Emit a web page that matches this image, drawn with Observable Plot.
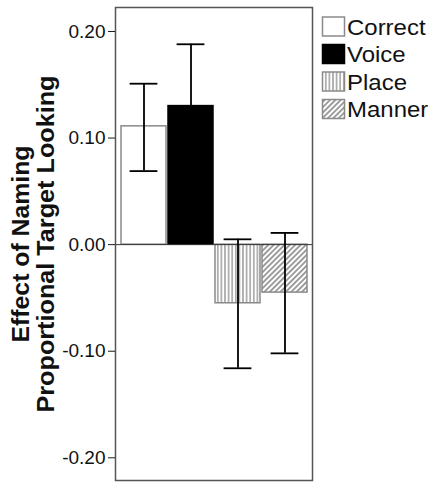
<!DOCTYPE html>
<html>
<head>
<meta charset="utf-8">
<script src="https://cdn.jsdelivr.net/npm/d3@7"></script>
<script src="https://cdn.jsdelivr.net/npm/@observablehq/plot@0.6"></script>
<style>
  html, body { margin: 0; padding: 0; background: white; }
  #wrap { position: relative; width: 428px; height: 483px; font-family: "Liberation Sans", Arial, sans-serif; }
  #legend { position: absolute; left: 0; top: 0; pointer-events: none; }
</style>
</head>
<body>
<svg width="0" height="0" style="position:absolute">
  <defs>
    <pattern id="pat-place" patternUnits="userSpaceOnUse" width="3.6" height="4">
      <rect width="3.6" height="4" fill="white"/>
      <line x1="1.8" y1="0" x2="1.8" y2="4" stroke="#6e6e6e" stroke-width="1"/>
    </pattern>
    <pattern id="pat-manner" patternUnits="userSpaceOnUse" width="3.8" height="4" patternTransform="rotate(45)">
      <rect width="3.8" height="4" fill="white"/>
      <line x1="1.9" y1="0" x2="1.9" y2="4" stroke="#606060" stroke-width="1.2"/>
    </pattern>
  </defs>
</svg>
<div id="wrap"></div>
<script>
const categories = ["Correct", "Voice", "Place", "Manner"];
const means = [0.111, 0.130, -0.055, -0.045];
const lower = [0.069, 0.072, -0.116, -0.102];
const upper = [0.151, 0.188, 0.005, 0.011];
const yTicks = [0.2, 0.1, 0, -0.1, -0.2];
const yTitle = ["Effect of Naming", "Proportional Target Looking"];

const fills = {Correct: "white", Voice: "black", Place: "url(#pat-place)", Manner: "url(#pat-manner)"};
const strokes = {Correct: "#8a8a8a", Voice: "black", Place: "#8a8a8a", Manner: "#8a8a8a"};

const rows = categories.map((c, i) => ({cat: c, mean: means[i], lo: lower[i], hi: upper[i]}));

const errStyle = {stroke: "#000", strokeWidth: 1.8};
const font = "'Liberation Sans', Arial, sans-serif";

const chart = Plot.plot({
  width: 428,
  height: 483,
  marginLeft: 115,
  marginRight: 116,
  marginTop: 7,
  marginBottom: 3,
  x: {domain: categories, paddingInner: 0.05, paddingOuter: 0.08, axis: null},
  y: {domain: [-0.2213, 0.2225], label: null},
  color: {type: "identity"},
  style: {fontFamily: font, fontSize: "19px", color: "#1a1a1a", background: "white", overflow: "visible"},
  marks: [
    Plot.barY(rows, {x: "cat", y1: 0, y2: "mean", fill: d => fills[d.cat], stroke: d => strokes[d.cat], strokeWidth: 1.5}),
    Plot.ruleY([0], {stroke: "#333", strokeWidth: 1}),
    Plot.ruleX(rows, {x: "cat", y1: "lo", y2: "hi", ...errStyle}),
    Plot.tickY(rows, {x: "cat", y: "hi", insetLeft: 8.6, insetRight: 8.6, ...errStyle}),
    Plot.tickY(rows, {x: "cat", y: "lo", insetLeft: 8.6, insetRight: 8.6, ...errStyle}),
    Plot.frame({stroke: "#555", strokeWidth: 1.5}),
    Plot.axisY(yTicks, {tickFormat: d => d.toFixed(2), tickSize: 7, tickPadding: 3, fontSize: 19, label: null, fill: "#111"}),
    Plot.text([yTitle[0]], {text: d => d, frameAnchor: "left", textAnchor: "middle", dx: -86.7, rotate: -90, lineAnchor: "bottom", fontSize: 23, fontWeight: "bold", fill: "#111"}),
    Plot.text([yTitle[1]], {text: d => d, frameAnchor: "left", textAnchor: "middle", dx: -61.7, rotate: -90, lineAnchor: "bottom", fontSize: 23, fontWeight: "bold", fill: "#111"})
  ]
});

const wrap = document.getElementById("wrap");
wrap.appendChild(chart);

// stretch y-title lines to the reference lengths
const titleLengths = [197, 337];
const textGroups = chart.querySelectorAll('g[aria-label="text"] text');
textGroups.forEach((t, i) => {
  t.setAttribute("textLength", titleLengths[i]);
  t.setAttribute("lengthAdjust", "spacingAndGlyphs");
});

// legend
const legend = d3.create("svg")
  .attr("id", "legend")
  .attr("width", 428)
  .attr("height", 483)
  .style("font-family", font);
const entry = legend.selectAll("g").data(categories).join("g")
  .attr("transform", (d, i) => `translate(0, ${17 + i * 27.5})`);
entry.append("rect")
  .attr("x", 322.5).attr("y", 0).attr("width", 22).attr("height", 19)
  .attr("fill", d => fills[d])
  .attr("stroke", d => strokes[d])
  .attr("stroke-width", 1.5);
entry.append("text")
  .attr("transform", "translate(347, 17.5) scale(1.09, 1)")
  .attr("font-size", 22)
  .attr("fill", "#111")
  .text(d => d);
wrap.appendChild(legend.node());
</script>
</body>
</html>
